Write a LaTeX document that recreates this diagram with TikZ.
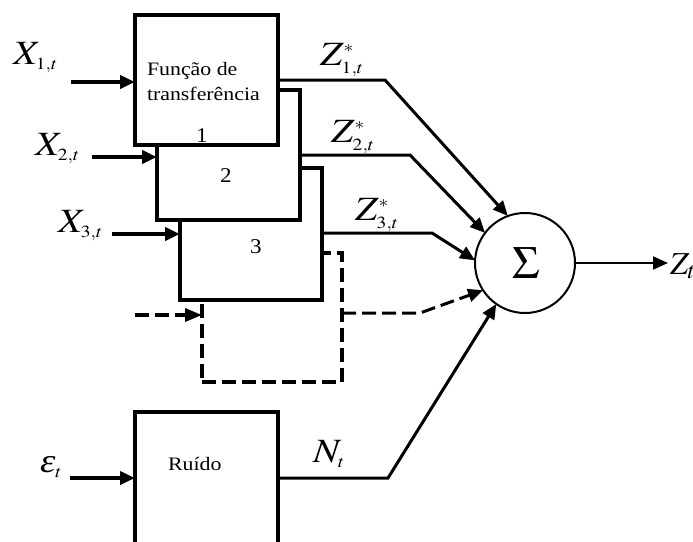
\documentclass[tikz,border=0pt]{standalone}
\usepackage{mathptmx}
\usepackage{fontspec}
\setmainfont{Liberation Serif}
\usetikzlibrary{arrows.meta}
\DeclareMathSizes{34}{34}{17}{12}
\DeclareMathSizes{46}{46}{23}{16}
\newcommand\wlab[1]{\scalebox{1.15}[1]{#1}}
\begin{document}
\begin{tikzpicture}[x=1pt,y=-1pt,
  box/.style={draw, line width=3.5pt, fill=white, rectangle, outer sep=0pt, inner sep=0pt, anchor=north west},
  inarr/.style={line width=4pt, -{Triangle[length=15pt,width=13pt]}},
  zarr/.style={line width=3pt, -{Triangle[length=15pt,width=13pt]}},
  dsh/.style={line width=3.5pt, dash pattern=on 14pt off 6pt},
  lbl/.style={font=\fontsize{34}{38}\selectfont, inner sep=0pt, outer sep=0pt, anchor=base west},
  txt/.style={font=\fontsize{19}{22}\selectfont, inner sep=0pt, outer sep=0pt, anchor=base west},
  num/.style={font=\fontsize{21}{24}\selectfont, inner sep=0pt, outer sep=0pt, anchor=base}
]
\useasboundingbox (0,0) rectangle (693,541);
\clip (0,0) rectangle (693,541);
\fill[white] (0,0) rectangle (693,541);

% stacked transfer-function boxes (back to front)
\node[box, dsh, minimum width=140pt, minimum height=129pt] (b4) at (202,253) {};
\node[box, minimum width=142pt, minimum height=132pt] (b3) at (180,168) {};
\node[box, minimum width=143pt, minimum height=130pt] (b2) at (157,90) {};
\node[box, minimum width=143pt, minimum height=130pt] (b1) at (135,15) {};
\node[box, minimum width=143pt, minimum height=135pt] (nz) at (135,412) {};

% box texts
\node[txt] (t1) at (147,75) {\scalebox{1.15}[1]{Função de}};
\node[txt] (t2) at (147,100) {\scalebox{1.15}[1]{transferência}};
\node[num] (n1) at (202,142) {\scalebox{1.1}[1]{1}};
\node[num] (n2) at (226,182) {\scalebox{1.1}[1]{2}};
\node[num] (n3) at (256,253) {\scalebox{1.1}[1]{3}};
\node[txt] (tr) at (168,470) {\scalebox{1.15}[1]{Ruído}};

% summing junction
\node[circle, draw, line width=2pt, minimum size=100pt, inner sep=0pt, outer sep=0pt] (sum) at (525,263) {};
\node[font=\fontsize{46}{50}\selectfont, inner sep=0pt] (sg) at (526,263) {$\Sigma$};

% input labels
\node[lbl] (lx1) at (13,64) {\wlab{$X_{1,t}$}};
\node[lbl] (lx2) at (35,155) {\wlab{$X_{2,t}$}};
\node[lbl] (lx3) at (58,232) {\wlab{$X_{3,t}$}};
\node[lbl] (le) at (40,472) {\wlab{$\mbox{\fontsize{34}{38}\selectfont\itshape ε}_{t}$}};

% output labels
\node[lbl] (lz1) at (320,65) {\wlab{$Z^{*}_{1,t}$}};
\node[lbl] (lz2) at (331,142) {\wlab{$Z^{*}_{2,t}$}};
\node[lbl] (lz3) at (355,220) {\wlab{$Z^{*}_{3,t}$}};
\node[lbl] (ln) at (313,462) {\wlab{$N_{t}$}};
\node[lbl, font=\fontsize{32}{36}\selectfont] (lzt) at (670,274) {$Z_{t}$};

% input arrows
\coordinate (s1) at (71,82);
\coordinate (s2) at (92,157);
\coordinate (s3) at (112,234);
\coordinate (se) at (70,478);
\coordinate (s4) at (135,315);
\draw[inarr] (s1) -- (s1 -| b1.west);
\draw[inarr] (s2) -- (s2 -| b2.west);
\draw[inarr] (s3) -- (s3 -| b3.west);
\draw[inarr] (se) -- (se -| nz.west);
\draw[dsh, -{Triangle[length=17pt,width=13pt]}] (s4) -- (s4 -| b4.west);

% outputs into the sum
\coordinate (k1) at (385,80);
\coordinate (k2) at (410,155);
\coordinate (k3) at (432,233);
\coordinate (k4) at (420,313);
\coordinate (kn) at (388,478);
\draw[zarr] (k1 -| b1.east) -- (k1) -- (sum.110);
\draw[zarr] (k2 -| b2.east) -- (k2) -- (sum.143);
\draw[zarr] (k3 -| b3.east) -- (k3) -- (sum.177);
\draw[dsh, line width=3pt, -{Triangle[length=15pt,width=13pt]}] (k4 -| b4.east) -- (k4) -- (sum.213);
\draw[zarr] (kn -| nz.east) -- (kn) -- (sum.235);

% output
\coordinate (zo) at (668,263);
\draw[line width=2pt, -{Triangle[length=15pt,width=13pt]}] (sum.east) -- (zo);
\end{tikzpicture}
\end{document}
